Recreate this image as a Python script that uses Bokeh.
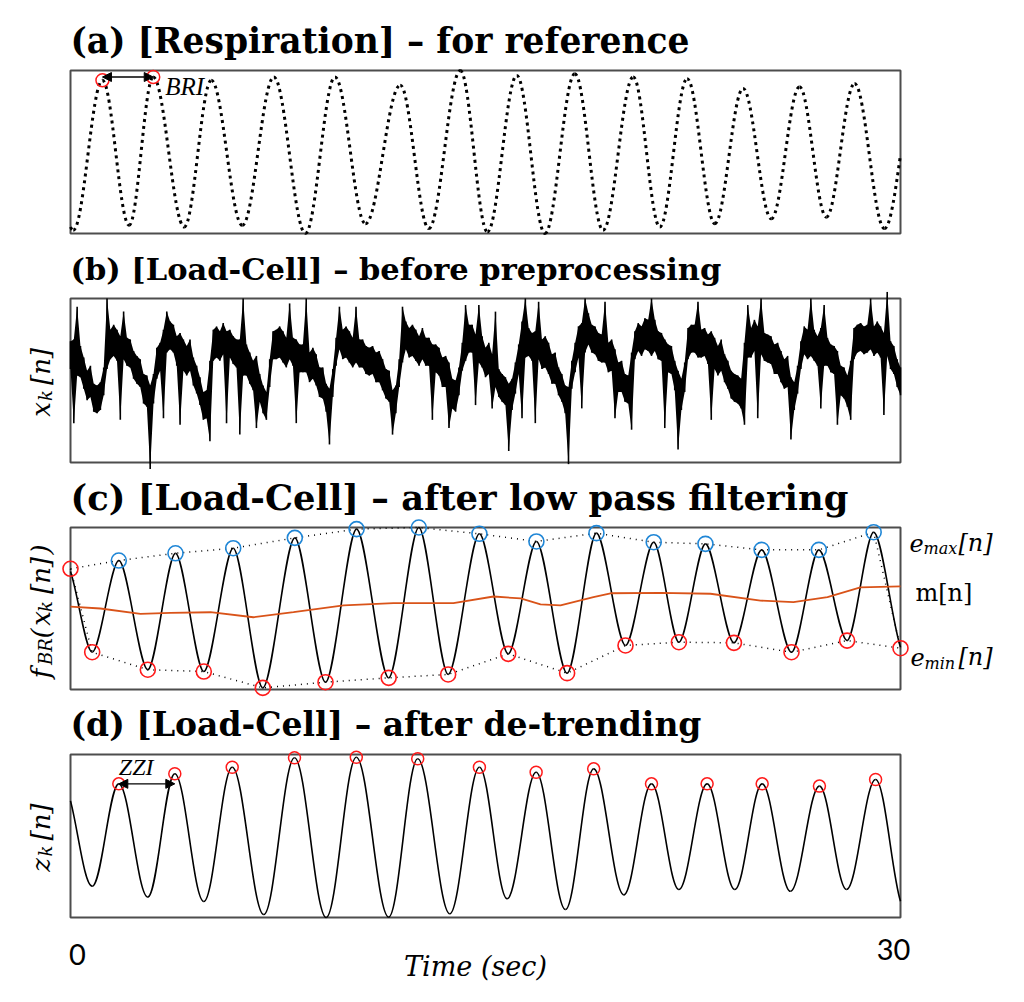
import numpy as np
from bokeh.plotting import figure
from bokeh.models import Range1d, Label, Arrow, NormalHead
from bokeh.embed import file_html
from bokeh.resources import INLINE

# ---------------- data ----------------
# (a) respiration reference: peak / trough times [s] and normalised amplitude
resp_peak_t = [-0.95, 1.155, 2.99, 5.09, 7.35, 9.56, 11.92, 14.09, 16.13, 18.23, 20.34, 22.29, 24.31, 26.35, 28.34, 30.55]
resp_peak_v = [0.90, 0.94, 0.96, 0.94, 0.96, 0.96, 0.91, 1.00, 0.97, 0.98, 0.96, 0.95, 0.89, 0.90, 0.92, 0.90]
resp_trough_t = [0.10, 2.12, 4.11, 6.21, 8.49, 10.66, 12.95, 15.07, 17.15, 19.25, 21.30, 23.29, 25.33, 27.32, 29.42]
resp_trough_v = [0.02, 0.05, 0.04, 0.05, 0.00, 0.06, 0.03, 0.01, 0.00, 0.02, 0.04, 0.06, 0.09, 0.10, 0.03]

# (b) raw load-cell signal: max and min of each 0.12 s bin (arbitrary units 0-100)
load_hi = [
    74, 75, 95, 71, 64, 56, 59, 48, 47, 49, 58, 100, 81, 84, 81, 77, 92, 76, 75, 68,
    65, 63, 54, 53, 47, 54, 70, 73, 81, 92, 86, 84, 77, 79, 75, 71, 75, 64, 59, 52,
    43, 44, 62, 81, 83, 80, 85, 80, 81, 77, 75, 75, 100, 72, 67, 62, 65, 54, 47, 43,
    63, 80, 81, 83, 80, 76, 97, 76, 75, 72, 72, 100, 67, 70, 66, 58, 58, 48, 45, 57,
    76, 95, 81, 83, 80, 76, 95, 75, 75, 71, 70, 71, 67, 68, 63, 57, 56, 44, 47, 63,
    95, 86, 82, 84, 81, 77, 82, 76, 76, 72, 72, 70, 64, 65, 61, 51, 50, 58, 73, 96,
    84, 84, 78, 96, 77, 70, 73, 66, 92, 57, 54, 52, 48, 51, 61, 72, 86, 100, 82, 79,
    80, 98, 75, 77, 73, 66, 67, 58, 54, 47, 46, 62, 73, 83, 85, 100, 91, 84, 83, 79,
    78, 98, 73, 75, 69, 61, 62, 54, 53, 67, 80, 85, 83, 88, 87, 100, 87, 80, 79, 75,
    72, 71, 62, 56, 51, 61, 82, 84, 84, 98, 81, 82, 78, 80, 76, 71, 75, 66, 62, 56,
    54, 53, 51, 73, 96, 82, 87, 83, 100, 79, 78, 77, 72, 73, 68, 63, 65, 52, 49, 59,
    74, 83, 81, 100, 81, 77, 82, 96, 76, 72, 71, 68, 59, 58, 53, 62, 82, 84, 85, 83,
    84, 100, 83, 86, 83, 79, 104, 74, 71, 63, 58,
]
load_lo = [
    57, 24, 53, 52, 45, 38, 40, 31, 30, 32, 41, 57, 63, 65, 62, 26, 63, 59, 58, 51,
    48, 46, 36, 34, -4, 36, 51, 56, 27, 67, 69, 67, 59, 23, 56, 53, 56, 47, 42, 35,
    26, 27, 13, 62, 64, 62, 66, 24, 64, 60, 58, 17, 53, 53, 48, 44, 21, 37, 30, 26,
    46, 63, 63, 64, 61, 58, 63, 59, 24, 55, 55, 55, 49, 51, 47, 40, 39, 31, 11, 40,
    59, 69, 63, 64, 61, 58, 61, 58, 58, 54, 53, 54, 49, 49, 44, 39, 37, 17, 30, 46,
    61, 69, 64, 65, 62, 59, 63, 59, 59, 26, 55, 53, 46, 46, 21, 33, 31, 41, 56, 62,
    67, 67, 35, 61, 58, 52, 54, 33, 46, 40, 37, 35, 7, 32, 42, 54, 27, 64, 65, 62,
    24, 63, 57, 58, 54, 48, 48, 41, 37, 30, -1, 45, 55, 64, 33, 67, 72, 67, 66, 62,
    61, 61, 55, 56, 27, 43, 43, 37, 36, 20, 63, 68, 65, 69, 68, 65, 68, 63, 62, 21,
    55, 54, 44, 8, 32, 43, 63, 67, 67, 64, 64, 65, 60, 26, 57, 53, 56, 49, 45, 39,
    37, 36, 33, 23, 64, 64, 68, 27, 66, 62, 61, 60, 54, 54, 49, 45, 46, 14, 32, 42,
    57, 66, 63, 65, 62, 59, 33, 59, 59, 55, 54, 23, 41, 39, 34, 26, 63, 67, 68, 66,
    67, 69, 65, 67, 64, 29, 65, 57, 54, 46, 41,
]
load_dt = 0.12

# (c) low-pass filtered signal: peaks, troughs, and the values at the two window edges
lpf_peak_t = [-0.15, 1.746, 3.795, 5.881, 8.108, 10.34, 12.59, 14.78, 16.84, 19.01, 21.08, 22.95, 24.98, 27.05, 29.03]
lpf_peak_v = [0.77, 0.796, 0.841, 0.872, 0.936, 0.99, 1.0, 0.961, 0.914, 0.965, 0.909, 0.899, 0.862, 0.862, 0.971]
lpf_trough_t = [0.784, 2.794, 4.818, 6.951, 9.217, 11.50, 13.65, 15.82, 17.95, 20.06, 21.99, 23.98, 26.06, 28.07, 30.15]
lpf_trough_v = [0.230, 0.122, 0.111, 0.010, 0.045, 0.072, 0.093, 0.220, 0.101, 0.272, 0.292, 0.288, 0.230, 0.302, 0.22]
lpf_edge_t = [0.0, 30.0]
lpf_edge_v = [0.745, 0.255]
# m[n]: mean of the two envelopes
mean_t = [0, 1.08, 2.53, 3.61, 5.06, 6.61, 8.06, 9.87, 11.67, 13.84, 15.29, 16.27, 16.99, 17.71,
          18.90, 19.52, 21.33, 23.13, 24.94, 26.13, 27.36, 28.55, 30.0]
mean_v = [0.512, 0.500, 0.467, 0.473, 0.477, 0.446, 0.477, 0.519, 0.533, 0.533, 0.574, 0.562, 0.525,
          0.519, 0.570, 0.594, 0.597, 0.591, 0.549, 0.539, 0.570, 0.631, 0.636]

# (d) de-trended signal: peaks and troughs
det_peak_t = [-0.25, 1.746, 3.770, 5.845, 8.096, 10.33, 12.55, 14.78, 16.83, 18.91, 21.0, 23.01, 25.0, 27.07, 29.10]
det_peak_v = [0.80, 0.820, 0.882, 0.922, 0.980, 0.983, 0.974, 0.922, 0.891, 0.912, 0.820, 0.820, 0.820, 0.806, 0.847]
det_trough_t = [0.784, 2.794, 4.818, 6.987, 9.242, 11.50, 13.71, 15.78, 17.89, 20.0, 21.99, 24.01, 26.02, 28.05, 30.15]
det_trough_v = [0.192, 0.125, 0.098, 0.018, 0.0, 0.002, 0.023, 0.115, 0.049, 0.139, 0.172, 0.172, 0.161, 0.172, 0.06]

titles = ["(a) [Respiration] \u2013 for reference",
          "(b) [Load-Cell] \u2013 before preprocessing",
          "(c) [Load-Cell] \u2013 after low pass filtering",
          "(d) [Load-Cell] \u2013 after de-trending"]
T_MAX = 30
x_ticks = [0, 30]

# ---------------- layout / styles ----------------
W, H = 1024, 1002
PL, PR = 70, 900                       # panel box left / right (px)
ROWS = {"a": (70, 233), "b": (298, 462), "c": (527, 689), "d": (754, 917)}
TITLE_SIZE = {"a": 34.5, "b": 30.5, "c": 35.3, "d": 33}
TITLE_FONT = "DejaVu Serif"
MATH_FONT = "DejaVu Serif"
TEXT_FONT = "Liberation Serif"
TICK_FONT = "Lato"
RED = "#ff1a1a"
BLUE = "#1f86d6"
ORANGE = "#d95319"
OUTLINE = "#4d4d4d"

span_x = T_MAX / (PR - PL)
p = figure(width=W, height=H, x_range=Range1d(-PL * span_x, (W - PL) * span_x),
           y_range=Range1d(0, 1), x_axis_type=None, y_axis_type=None,
           toolbar_location=None, output_backend="svg", min_border=0,
           title_location=None)
p.outline_line_color = None
p.background_fill_color = "white"
p.border_fill_color = "white"


def add_row(name, lo, hi):
    top, bot = ROWS[name]
    s = (hi - lo) / (bot - top)
    p.extra_y_ranges[name] = Range1d(lo - (H - bot) * s, hi + top * s)
    p.quad(left=0, right=T_MAX, bottom=lo, top=hi, fill_color=None,
           line_color=OUTLINE, line_width=2, y_range_name=name)


def lab(r, x, y, text, size, xo=0, yo=0, align="left", base="middle", style="normal",
        font=MATH_FONT, angle=0.0):
    p.add_layout(Label(x=x, y=y, y_range_name=r, text=text, x_offset=xo, y_offset=yo,
                       text_align=align, text_baseline=base, text_font=font,
                       text_font_style=style, text_font_size=f"{size}px", angle=angle,
                       text_color="black"))


def casteljau(P, s):
    lerp = lambda a, b: (a[0] + (b[0] - a[0]) * s, a[1] + (b[1] - a[1]) * s)
    p01, p12, p23 = lerp(P[0], P[1]), lerp(P[1], P[2]), lerp(P[2], P[3])
    p012, p123 = lerp(p01, p12), lerp(p12, p23)
    m = lerp(p012, p123)
    return [P[0], p01, p012, m], [m, p123, p23, P[3]]


def cut_at(P, x):
    a, b = 0.0, 1.0
    for _ in range(60):
        s = 0.5 * (a + b)
        u = 1 - s
        xs = u**3 * P[0][0] + 3 * u * u * s * P[1][0] + 3 * u * s * s * P[2][0] + s**3 * P[3][0]
        if xs < x:
            a = s
        else:
            b = s
    return casteljau(P, 0.5 * (a + b))


def smooth(r, pk_t, pk_v, tr_t, tr_v, k, **kw):
    pts = sorted(zip(list(pk_t) + list(tr_t), list(pk_v) + list(tr_v)))
    segs = []
    for (t0, v0), (t1, v1) in zip(pts[:-1], pts[1:]):
        if t1 <= 0 or t0 >= T_MAX:
            continue
        d = t1 - t0
        P = [(t0, v0), (t0 + k * d, v0), (t1 - k * d, v1), (t1, v1)]
        if t0 < 0:
            P = cut_at(P, 0)[1]
        if t1 > T_MAX:
            P = cut_at(P, T_MAX)[0]
        segs.append(P)
    p.bezier(x0=[s[0][0] for s in segs], y0=[s[0][1] for s in segs],
             x1=[s[3][0] for s in segs], y1=[s[3][1] for s in segs],
             cx0=[s[1][0] for s in segs], cy0=[s[1][1] for s in segs],
             cx1=[s[2][0] for s in segs], cy1=[s[2][1] for s in segs],
             y_range_name=r, **kw)


def visible(ts, vs):
    sel = [(a, b) for a, b in zip(ts, vs) if 0 <= a <= T_MAX]
    return [a for a, _ in sel], [b for _, b in sel]


def title(r, text, top):
    lab(r, 0, top, text, TITLE_SIZE[r], xo=0, yo=30, style="bold", font=TITLE_FONT)


def rot_pieces(r, yc, pieces):
    for text, size, xo, yo in pieces:
        lab(r, 0, yc, text, size, xo=xo, yo=yo, align="center", base="alphabetic",
            style="italic", angle=np.pi / 2)


def head():
    return NormalHead(size=9, fill_color="black", line_color="black")

# ---------------- (a) ----------------
add_row("a", 0, 1)
title("a", titles[0], 1)
smooth("a", resp_peak_t, resp_peak_v, resp_trough_t, resp_trough_v, 0.36,
       line_color="black", line_width=3, line_dash="3 4")
p.scatter(resp_peak_t[1:3], resp_peak_v[1:3], marker="circle", size=13, y_range_name="a",
          fill_color=None, line_color=RED, line_width=1.5)
p.add_layout(Arrow(start=head(), end=head(), x_start=resp_peak_t[1], y_start=resp_peak_v[2],
                   x_end=resp_peak_t[2], y_end=resp_peak_v[2], line_width=1.3, y_range_name="a"))
lab("a", resp_peak_t[2], resp_peak_v[2], "BRI", 25, xo=12, yo=-9, style="italic", font=TEXT_FONT)

# ---------------- (b) ----------------
add_row("b", 0, 100)
title("b", titles[1], 100)
lc_t = [i * load_dt for i in range(len(load_hi))]
p.varea(x=lc_t, y1=load_lo, y2=load_hi, fill_color="black", y_range_name="b")
p.segment(x0=lc_t, y0=load_lo, x1=lc_t, y1=load_hi, line_color="black", line_width=1.6,
          y_range_name="b")
rot_pieces("b", 50, [("x", 26, -30, -29), ("k", 18, -25, -15), ("[n]", 26, -30, 14)])

# ---------------- (c) ----------------
add_row("c", 0, 1)
title("c", titles[2], 1)
smooth("c", lpf_peak_t, lpf_peak_v, lpf_trough_t, lpf_trough_v, 0.30,
       line_color="black", line_width=1.6)
pk_t, pk_v = visible(lpf_peak_t, lpf_peak_v)
tr_t, tr_v = visible(lpf_trough_t, lpf_trough_v)
up_t = [lpf_edge_t[0]] + pk_t + [lpf_edge_t[1]]
up_v = [lpf_edge_v[0]] + pk_v + [lpf_edge_v[1]]
lo_t = [lpf_edge_t[0]] + tr_t + [lpf_edge_t[1]]
lo_v = [lpf_edge_v[0]] + tr_v + [lpf_edge_v[1]]
p.line(up_t, up_v, line_color="black", line_width=1.5, line_dash="1 5", y_range_name="c")
p.line(lo_t, lo_v, line_color="black", line_width=1.5, line_dash="1 5", y_range_name="c")
p.line(mean_t, mean_v, line_color=ORANGE, line_width=1.8, y_range_name="c")
p.scatter(pk_t, pk_v, marker="circle", size=15, fill_color=None, line_color=BLUE,
          line_width=1.6, y_range_name="c")
p.scatter(lo_t, lo_v, marker="circle", size=15, fill_color=None, line_color=RED,
          line_width=1.6, y_range_name="c")
rot_pieces("c", 0.5, [("f", 26, -30, -65), ("BR", 18, -25, -43), ("(", 26, -30, -25),
                      ("x", 26, -30, -10), ("k", 18, -25, 2), ("[n]", 26, -30, 33),
                      (")", 26, -30, 59)])
lab("c", T_MAX, 1, "e", 24, xo=9, yo=-15, base="alphabetic", style="italic")
lab("c", T_MAX, 1, "max", 16, xo=23, yo=-21, base="alphabetic", style="italic")
lab("c", T_MAX, 1, "[n]", 24, xo=58, yo=-15, base="alphabetic", style="italic")
lab("c", T_MAX, 0.5, "m[n]", 24, xo=15, yo=16, base="middle")
lab("c", T_MAX, 0, "e", 24, xo=10, yo=33, base="alphabetic", style="italic")
lab("c", T_MAX, 0, "min", 16, xo=24, yo=26, base="alphabetic", style="italic")
lab("c", T_MAX, 0, "[n]", 24, xo=58, yo=33, base="alphabetic", style="italic")

# ---------------- (d) ----------------
add_row("d", 0, 1)
title("d", titles[3], 1)
smooth("d", det_peak_t, det_peak_v, det_trough_t, det_trough_v, 0.36,
       line_color="black", line_width=1.6)
dk_t, dk_v = visible(det_peak_t, det_peak_v)
p.scatter(dk_t, dk_v, marker="circle", size=12, fill_color=None, line_color=RED,
          line_width=1.5, y_range_name="d")
p.add_layout(Arrow(start=head(), end=head(), x_start=dk_t[0], y_start=dk_v[0],
                   x_end=dk_t[1], y_end=dk_v[0], line_width=1.3, y_range_name="d"))
lab("d", dk_t[0], dk_v[0], "ZZI", 24, xo=0, yo=17, style="italic", font=TEXT_FONT)
rot_pieces("d", 0.5, [("z", 26, -30, -29), ("k", 18, -25, -15), ("[n]", 26, -30, 14)])
lab("d", x_ticks[0], 0, str(x_ticks[0]), 29, xo=7, yo=-37, align="center", font=TICK_FONT)
lab("d", x_ticks[1], 0, str(x_ticks[1]), 29, xo=-7, yo=-32, align="center", font=TICK_FONT)
lab("d", T_MAX / 2, 0, "Time (sec)", 27, xo=-10, yo=-49, align="center", style="italic",
    font=MATH_FONT)

open("out.html", "w").write(file_html(p, INLINE))
